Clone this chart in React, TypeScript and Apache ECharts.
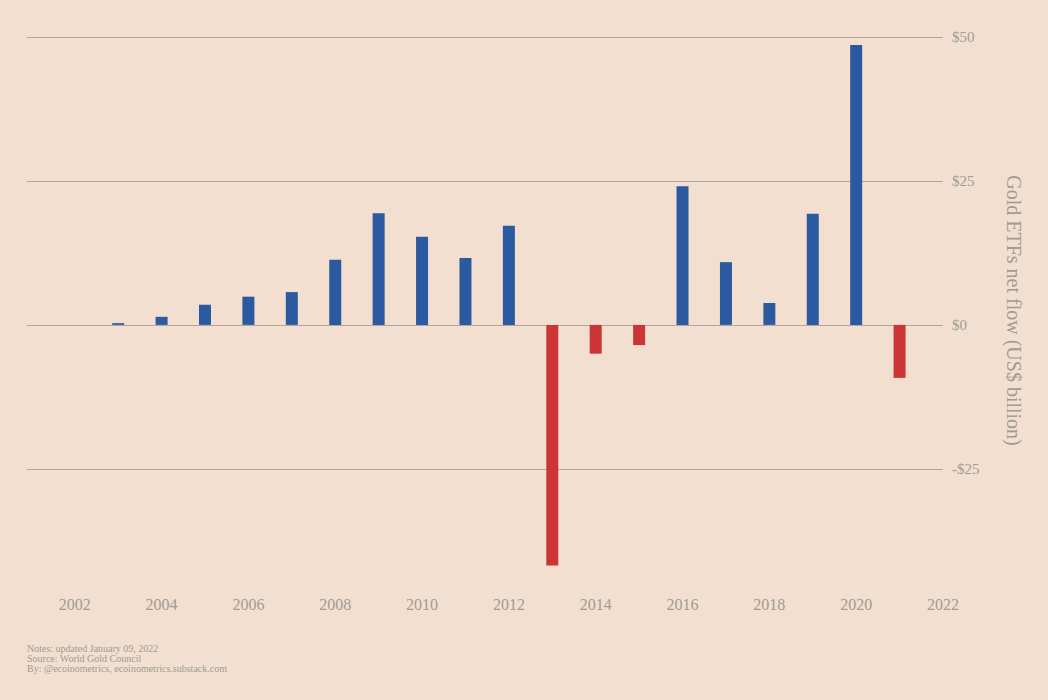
import React, { useEffect, useRef } from "react";
import * as echarts from "echarts";

const years = [2003, 2004, 2005, 2006, 2007, 2008, 2009, 2010, 2011, 2012, 2013, 2014, 2015, 2016, 2017, 2018, 2019, 2020, 2021];
const flows = [0.3, 1.4, 3.5, 4.9, 5.7, 11.3, 19.4, 15.3, 11.6, 17.2, -41.8, -5.0, -3.5, 24.1, 10.9, 3.8, 19.3, 48.6, -9.2];
const xTicks = [2002, 2004, 2006, 2008, 2010, 2012, 2014, 2016, 2018, 2020, 2022];
const yTicks = [-25, 0, 25, 50];
const notes = [
  "Notes: updated January 09, 2022",
  "Source: World Gold Council",
  "By: @ecoinometrics, ecoinometrics.substack.com",
];

const FONT = "Liberation Serif, DejaVu Serif, serif";
const TEXT = "#a29a93";
const GRID = "#b3a79d";
const BLUE = "#2c5aa0";
const RED = "#cc3535";

export default function App() {
  const ref = useRef<HTMLDivElement>(null);
  useEffect(() => {
    if (!ref.current) return;
    const chart = echarts.init(ref.current, undefined, { renderer: "svg" });
    chart.setOption({
      animation: false,
      backgroundColor: "#f2dfcf",
      grid: { left: 27, right: 105, top: 37, bottom: 116 },
      xAxis: {
        type: "value",
        min: 2000.9,
        max: 2022,
        axisLine: { show: false },
        axisTick: { show: false },
        splitLine: { show: false },
        axisLabel: {
          customValues: xTicks,
          formatter: (v: number) => String(v),
          color: TEXT,
          fontFamily: FONT,
          fontSize: 16,
          margin: 12,
        },
      },
      yAxis: {
        type: "value",
        position: "right",
        min: -45,
        max: 50,
        axisLine: { show: false },
        axisTick: { show: false, customValues: yTicks },
        splitLine: { show: true, lineStyle: { color: GRID, width: 1.2 } },
        axisLabel: {
          customValues: yTicks,
          formatter: (v: number) => (v < 0 ? "-$" + Math.abs(v) : "$" + v),
          color: TEXT,
          fontFamily: FONT,
          fontSize: 15,
          margin: 9,
        },
        name: "Gold ETFs net flow (US$ billion)",
        nameLocation: "middle",
        nameRotate: -90,
        nameGap: 61,
        nameTextStyle: { color: TEXT, fontFamily: FONT, fontSize: 20 },
      },
      series: [
        {
          type: "bar",
          barWidth: 12,
          data: years.map((y, i) => ({
            value: [y, flows[i]],
            itemStyle: { color: flows[i] < 0 ? RED : BLUE },
          })),
        },
      ],
      graphic: notes.map((t, i) => ({
        type: "text",
        left: 27,
        top: 643 + i * 10,
        style: { text: t, fill: TEXT, font: `10px ${FONT}` },
      })),
    });
    return () => chart.dispose();
  }, []);
  return <div ref={ref} style={{ position: "fixed", left: 0, top: 0, width: 1048, height: 700 }} />;
}
